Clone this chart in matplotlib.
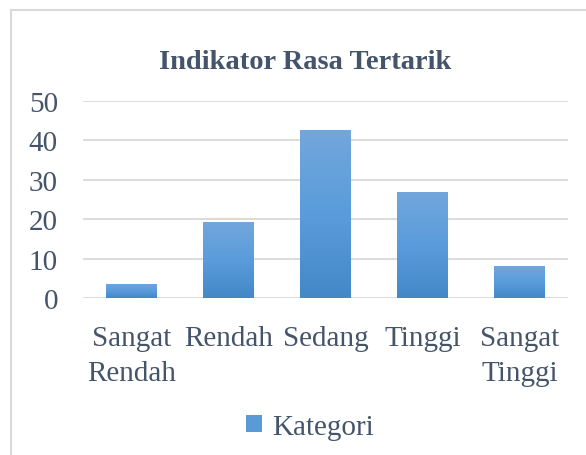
import numpy as np
import matplotlib.pyplot as plt
from matplotlib.lines import Line2D
from matplotlib.patches import Patch
from matplotlib.colors import LinearSegmentedColormap

kategori = ["Sangat\nRendah", "Rendah", "Sedang", "Tinggi", "Sangat\nTinggi"]
nilai = [3.6, 19.3, 42.6, 26.9, 8.2]
judul = "Indikator Rasa Tertarik"
nama_seri = "Kategori"

warna_teks = "#44546A"
plt.rcParams['font.family'] = 'serif'
plt.rcParams['font.serif'] = ['Liberation Serif', 'Times New Roman', 'DejaVu Serif']

fig = plt.figure(figsize=(5.86, 4.56), dpi=100)
ax = fig.add_axes([0.1416, 0.3436, 0.8274, 0.4334])

x = np.arange(len(kategori))
bars = ax.bar(x, nilai, width=0.52, color="#5B9BD5", zorder=2)

# gradasi warna seperti Excel
grad = np.linspace(0, 1, 256).reshape(-1, 1)
cmap = LinearSegmentedColormap.from_list("g", ["#4488C8", "#5A9CDC", "#72A7DB"])
for b in bars:
    bx, by = b.get_x(), b.get_y()
    im = ax.imshow(grad, cmap=cmap, aspect="auto", origin="lower",
                   extent=[bx, bx + b.get_width(), by, by + b.get_height()], zorder=3)
    im.set_clip_path(b)

ax.set_xlim(-0.5, len(kategori) - 0.5)
ax.set_ylim(0, 50)
ax.set_yticks(range(0, 51, 10))
ax.set_xticks(x)
ax.set_xticklabels(kategori, linespacing=1.45)
ax.yaxis.grid(True, color="#D9D9D9", linewidth=1.3, zorder=0)
ax.set_axisbelow(True)
for s in ax.spines.values():
    s.set_visible(False)
ax.tick_params(axis="both", length=0, labelsize=21, labelcolor=warna_teks)
ax.tick_params(axis="y", pad=18)
ax.tick_params(axis="x", pad=19)

fig.text(0.521, 0.862, judul, ha="center", va="center", fontsize=20.5,
         fontweight="bold", color=warna_teks)

handle = Patch(facecolor="#5B9BD5", edgecolor="none")
fig.legend([handle], [nama_seri], loc="center", bbox_to_anchor=(0.529, 0.062),
           frameon=False, fontsize=21, labelcolor=warna_teks,
           handlelength=0.55, handleheight=0.55, handletextpad=0.35)

# bingkai grafik
fig.add_artist(Line2D([0.019, 0.019], [0, 0.976], color="#D9D9D9", lw=1.5,
                      transform=fig.transFigure))
fig.add_artist(Line2D([0.019, 1], [0.976, 0.976], color="#D9D9D9", lw=1.5,
                      transform=fig.transFigure))

fig.savefig("out.png", dpi=100)
